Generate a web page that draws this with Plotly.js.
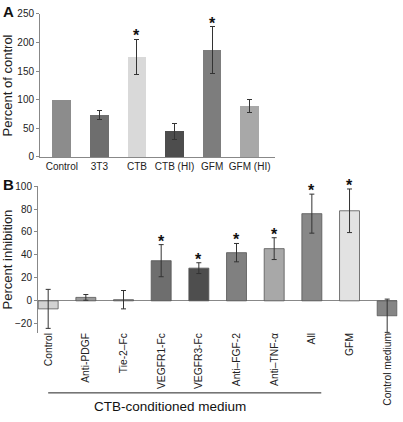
<!DOCTYPE html>
<html><head><meta charset="utf-8">
<script src="https://cdn.plot.ly/plotly-3.0.1.min.js"></script>
<style>html,body{margin:0;padding:0;background:#fff}#chart{width:403px;height:422px}</style>
</head><body><div id="chart"></div>
<script>
// Panel A data (Control has no error bar)
const catsA = ['Control', '3T3', 'CTB', 'CTB (HI)', 'GFM', 'GFM (HI)'];
const valsA = [100, 73, 175, 45, 187, 89];
const errA  = [NaN, 8, 31, 14, 41, 11];
const sigA  = [false, false, true, false, true, false];
const colorsA = ['#8c8c8c', '#6e6e6e', '#d9d9d9', '#4d4d4d', '#7d7d7d', '#a8a8a8'];

// Panel B data
const catsB = ['Control', 'Anti-PDGF', 'Tie-2–Fc', 'VEGFR1-Fc', 'VEGFR3-Fc', 'Anti–FGF-2', 'Anti–TNF-α', 'All', 'GFM', 'Control medium'];
const valsB = [-7, 3, 1, 35, 28.5, 42, 45.5, 76, 78.5, -13];
const errB  = [17, 2.5, 8, 14, 4.7, 8, 9.5, 17, 19, 14.5];
const sigB  = [false, false, false, true, true, true, true, true, true, false];
const colorsB = ['#d2d2d2', '#9a9a9a', '#8a8a8a', '#6e6e6e', '#4e4e4e', '#808080', '#a8a8a8', '#888888', '#e2e2e2', '#858585'];

const FONT = 'Liberation Sans, Arial, Helvetica, sans-serif';
const idxA = catsA.map((_, i) => i);
const idxB = catsB.map((_, i) => i);

const traces = [
  {
    type: 'bar', x: idxA, y: valsA, xaxis: 'x', yaxis: 'y', width: 0.5,
    marker: {color: colorsA, line: {width: 0}},
    error_y: {type: 'data', array: errA, visible: true, color: '#333', thickness: 1, width: 2.5},
    hoverinfo: 'skip', showlegend: false
  },
  {
    type: 'bar', x: idxB, y: valsB, xaxis: 'x2', yaxis: 'y2', width: 0.53,
    marker: {color: colorsB, line: {width: 0.8, color: '#555'}},
    error_y: {type: 'data', array: errB, visible: true, color: '#333', thickness: 1, width: 2.5},
    hoverinfo: 'skip', showlegend: false
  }
];

const annotations = [];
const starFont = {family: FONT, size: 16, color: '#111'};
idxA.forEach(i => {
  if (sigA[i]) annotations.push({x: i, y: valsA[i] + errA[i], xref: 'x', yref: 'y', text: '<b>*</b>', showarrow: false,
    yanchor: 'bottom', yshift: -7, font: starFont});
});
idxB.forEach(i => {
  if (sigB[i]) annotations.push({x: i, y: valsB[i] + errB[i], xref: 'x2', yref: 'y2', text: '<b>*</b>', showarrow: false,
    yanchor: 'bottom', yshift: -7, font: starFont});
});
annotations.push({x: 0.022, y: 0.972, xref: 'paper', yref: 'paper', text: '<b>A</b>', showarrow: false,
  xanchor: 'center', yanchor: 'middle', font: {family: FONT, size: 15, color: '#111'}});
annotations.push({x: 0.022, y: 0.562, xref: 'paper', yref: 'paper', text: '<b>B</b>', showarrow: false,
  xanchor: 'center', yanchor: 'middle', font: {family: FONT, size: 15, color: '#111'}});
annotations.push({x: 0.422, y: 0.036, xref: 'paper', yref: 'paper', text: 'CTB-conditioned medium', showarrow: false,
  xanchor: 'center', yanchor: 'middle', font: {family: FONT, size: 13.5, color: '#111'}});

const shapes = [
  {type: 'line', xref: 'x2', yref: 'paper', x0: 0, x1: 7.25, y0: 0.069, y1: 0.069, line: {color: '#222', width: 1}}
];

const layout = {
  width: 403, height: 422,
  margin: {l: 0, r: 0, t: 0, b: 0},
  paper_bgcolor: '#fff', plot_bgcolor: '#fff',
  font: {family: FONT, size: 10, color: '#222'},
  showlegend: false,
  bargap: 0,
  xaxis: {
    domain: [0.0993, 0.682], range: [-0.58, 5.67], anchor: 'y',
    tickvals: idxA, ticktext: catsA, ticks: '', showgrid: false, zeroline: false,
    showline: true, linecolor: '#888', linewidth: 1, tickfont: {size: 10, color: '#222'}, fixedrange: true
  },
  yaxis: {
    domain: [0.628, 0.967], range: [0, 250], anchor: 'x',
    tickvals: [0, 50, 100, 150, 200, 250], ticks: 'outside', ticklen: 3, tickcolor: '#888',
    showgrid: false, zeroline: false, showline: true, linecolor: '#888', linewidth: 1,
    tickfont: {size: 10, color: '#222'},
    title: {text: 'Percent of control', font: {size: 13, color: '#222'}, standoff: 4}
  },
  xaxis2: {
    domain: [0.0943, 0.986], range: [-0.27, 9.27], anchor: 'y2',
    tickvals: idxB, ticktext: catsB, tickangle: -90, ticks: '', showgrid: false, zeroline: false,
    showline: false, tickfont: {size: 10.3, color: '#222'}, ticklabelstandoff: -3
  },
  yaxis2: {
    domain: [0.211, 0.559], range: [-28, 100], anchor: 'x2',
    tickvals: [-20, 0, 20, 40, 60, 80, 100], ticktext: ['−20', '0', '20', '40', '60', '80', '100'],
    ticks: 'outside', ticklen: 3, tickcolor: '#888',
    showgrid: false, zeroline: true, zerolinecolor: '#888', zerolinewidth: 1,
    showline: true, linecolor: '#888', linewidth: 1,
    tickfont: {size: 10, color: '#222'},
    title: {text: 'Percent inhibition', font: {size: 13, color: '#222'}, standoff: 4}
  },
  annotations: annotations,
  shapes: shapes
};

Plotly.newPlot('chart', traces, layout, {displayModeBar: false, staticPlot: true});
</script>
</body></html>
